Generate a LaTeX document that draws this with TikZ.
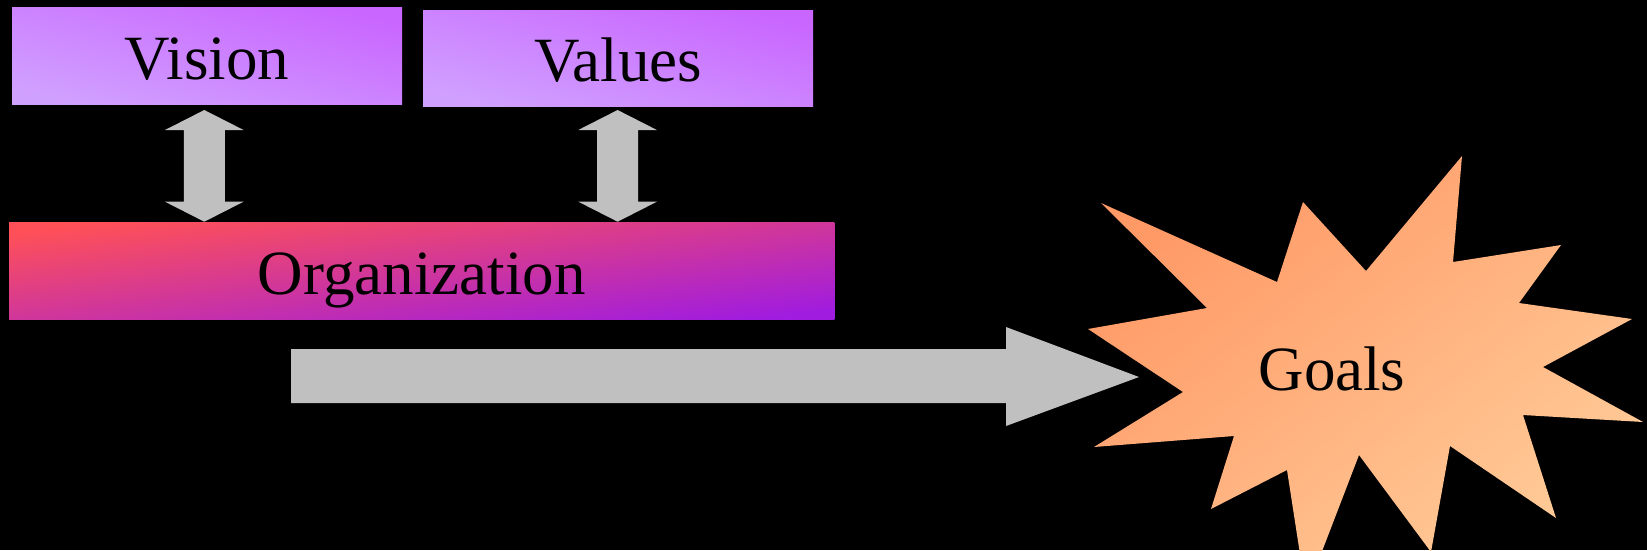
\documentclass[tikz,border=0pt]{standalone}
\usepackage{fontspec}
\setmainfont{Liberation Serif}
\definecolor{violetA}{HTML}{C966FF}
\definecolor{violetB}{HTML}{D0A0FF}
\definecolor{orgA}{HTML}{FF5057}
\definecolor{orgB}{HTML}{A01CDF}
\definecolor{starA}{HTML}{FF9966}
\definecolor{starB}{HTML}{FFCC99}
\definecolor{arrowgray}{HTML}{C0C0C0}
\begin{document}
\begin{tikzpicture}[x=1pt,y=-1pt,
  box/.style={inner sep=0pt, text height=47pt, text depth=0pt,
    font=\fontsize{63}{70}\selectfont, text=black},
  purplebox/.style={box, top color=violetA, bottom color=violetB, shading angle=-14},
  orgbox/.style={box, top color=orgA, bottom color=orgB, shading angle=6.7},
  blockarrow/.style={fill=arrowgray, draw=none},
  starshape/.style={top color=starA, bottom color=starB, shading angle=38, draw=none},
]
\fill[black] (0,0) rectangle (1647,550);
\clip (0,0) rectangle (1647,550);

% boxes
\node[purplebox, minimum width=390pt, minimum height=97pt] (vision) at (207,55.5) {Vision};
\node[purplebox, minimum width=390pt, minimum height=96pt] (values) at (618,58) {Values};
\node[orgbox, minimum width=825.4pt, minimum height=97.3pt] (org) at (421.7,271.3) {Organization};

% star
\shade[starshape] (1101,203) -- (1207,308) -- (1088,329) -- (1183,392) -- (1094,447)
  -- (1234,436) -- (1211,509) -- (1287,470) -- (1306,593) -- (1359,455)
  -- (1431,552) -- (1450,446) -- (1556,518) -- (1523,415) -- (1643,422)
  -- (1543,367) -- (1632,319) -- (1519,303) -- (1561,245) -- (1453,262)
  -- (1462,156) -- (1366,271) -- (1303,202) -- (1277,282) -- cycle;
\node[box] (goals) at (1332,366.5) {Goals};

% double arrows between Vision/Values and Organization
\begin{scope}[shift={(204.3,0)}]
\fill[blockarrow] (0,110) -- (39.3,130) -- (20.5,130) -- (20.5,201.7) -- (39.3,201.7)
  -- (0,221.7) -- (-39.3,201.7) -- (-20.5,201.7) -- (-20.5,130) -- (-39.3,130) -- cycle;
\end{scope}
\begin{scope}[shift={(617.6,0)}]
\fill[blockarrow] (0,110) -- (39.3,130) -- (20.5,130) -- (20.5,201.7) -- (39.3,201.7)
  -- (0,221.7) -- (-39.3,201.7) -- (-20.5,201.7) -- (-20.5,130) -- (-39.3,130) -- cycle;
\end{scope}

% big arrow towards Goals
\fill[blockarrow] (291,349) -- (1006,349) -- (1006,327) -- (1139,377) -- (1006,426)
  -- (1006,403) -- (291,403) -- cycle;
\end{tikzpicture}
\end{document}
